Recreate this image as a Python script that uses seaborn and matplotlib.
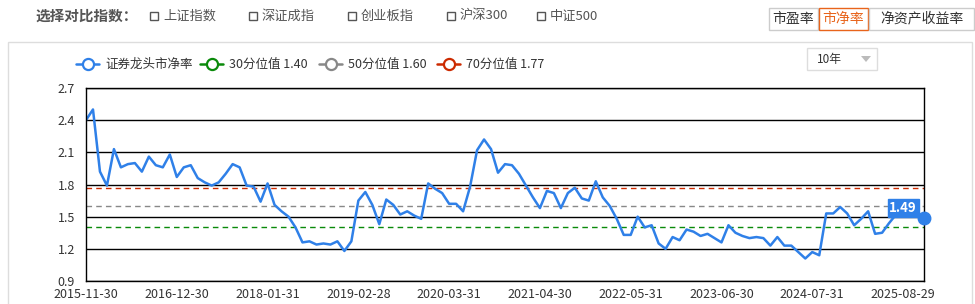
import numpy as np
import pandas as pd
import matplotlib
matplotlib.use("Agg")
import matplotlib.pyplot as plt
import seaborn as sns
from matplotlib.patches import Rectangle, Polygon
from matplotlib.lines import Line2D

# ---------------- data ----------------
values = [
    2.40, 2.50, 1.92, 1.79, 2.13, 1.96, 1.99, 2.00, 1.92, 2.06, 1.98, 1.96, 2.08, 1.87, 1.96, 1.98, 1.86, 1.82, 1.79, 1.82, 1.90,
    1.99, 1.96, 1.79, 1.78, 1.64, 1.81, 1.61, 1.55, 1.50, 1.40, 1.26, 1.27, 1.24, 1.25, 1.24, 1.27, 1.18, 1.27, 1.65, 1.73,
    1.61, 1.43, 1.66, 1.61, 1.52, 1.55, 1.51, 1.48, 1.81, 1.76, 1.72, 1.62, 1.62, 1.55, 1.78, 2.12, 2.22, 2.13, 1.91, 1.99,
    1.98, 1.90, 1.79, 1.68, 1.58, 1.74, 1.72, 1.58, 1.72, 1.77, 1.67, 1.65, 1.83, 1.68, 1.60, 1.48, 1.33, 1.33, 1.50, 1.40,
    1.42, 1.25, 1.20, 1.31, 1.28, 1.38, 1.36, 1.32, 1.34, 1.30, 1.26, 1.42, 1.35, 1.32, 1.30, 1.31, 1.30, 1.23, 1.31, 1.23,
    1.23, 1.17, 1.11, 1.17, 1.14, 1.53, 1.53, 1.59, 1.53, 1.42, 1.48, 1.55, 1.34, 1.35, 1.44, 1.52, 1.64, 1.56, 1.52, 1.49,
]
tick_labels = ["2015-11-30", "2016-12-30", "2018-01-31", "2019-02-28", "2020-03-31",
               "2021-04-30", "2022-05-31", "2023-06-30", "2024-07-31", "2025-08-29"]
tick_step = 13
y_ticks = [0.9, 1.2, 1.5, 1.8, 2.1, 2.4, 2.7]
series_name = "证券龙头市净率"
pct_names = ["30分位值 1.40", "50分位值 1.60", "70分位值 1.77"]
pct_values = [1.40, 1.60, 1.77]
pct_colors = ["#0a8a0a", "#888888", "#cc2a00"]
compare_items = ["上证指数", "深证成指", "创业板指", "沪深300", "中证500"]
metric_buttons = ["市盈率", "市净率", "净资产收益率"]
period_label = "10年"

BLUE = "#2f80e8"
TXT = "#333333"

sns.set_theme(style="white")
plt.rcParams['font.family'] = ['Noto Sans CJK SC', 'DejaVu Sans']

W, H = 975, 304
fig = plt.figure(figsize=(W / 100, H / 100), dpi=100)
fig.patch.set_facecolor("white")

def fx(x):
    return x / W

def fy(y):
    return 1 - y / H

# ---------- axes ----------
L, R, T, B = 86, 924, 88, 281
ax = fig.add_axes([fx(L), fy(B), (R - L) / W, (B - T) / H])

df = pd.DataFrame({"idx": np.arange(len(values)), "val": values})
sns.lineplot(data=df, x="idx", y="val", ax=ax, color=BLUE, linewidth=1.8)

ax.set_xlim(0, len(values) - 1)
ax.set_ylim(0.9, 2.7)
ax.set_yticks(y_ticks)
ax.set_yticklabels([f"{v:.1f}" for v in y_ticks])
ax.set_xticks(np.arange(len(tick_labels)) * tick_step)
ax.set_xticklabels(tick_labels)
ax.set_xlabel("")
ax.set_ylabel("")
ax.tick_params(axis="both", length=0, labelsize=9, labelcolor=TXT)
ax.tick_params(axis="y", pad=8)
ax.tick_params(axis="x", pad=5)

for v in y_ticks:
    ax.axhline(v, color="black", linewidth=1.0, zorder=1)
for v, c in zip(pct_values, pct_colors):
    ax.axhline(v, color=c, linewidth=1.0, linestyle=(0, (4, 3)), zorder=1.5)

for s in ["left", "right", "bottom", "top"]:
    ax.spines[s].set_visible(True)
    ax.spines[s].set_color("black")
    ax.spines[s].set_linewidth(1.0)

# end marker and label
last_i = len(values) - 1
ax.plot([last_i], [values[-1]], marker="o", markersize=9, color=BLUE, zorder=5, clip_on=False)
ax.annotate(f"{values[-1]:.2f}", xy=(last_i, values[-1]), xytext=(-15, 7),
            textcoords="offset points", ha="center", va="center", color="white",
            fontsize=9.5, fontweight="bold",
            bbox=dict(boxstyle="square,pad=0.12", fc=BLUE, ec=BLUE), zorder=6)

# ---------- panel frame ----------
fig.add_artist(Rectangle((fx(8), fy(310)), fx(972) - fx(8), fy(42) - fy(310),
                         transform=fig.transFigure, fill=False, ec="#dddddd", lw=1.0))

# ---------- header ----------
fig.text(fx(35), fy(16), "选择对比指数：", fontsize=10.5, fontweight="bold", color="#555555",
         ha="left", va="center")
cb_x = [150, 249, 348, 447, 537]
for x, lab in zip(cb_x, compare_items):
    fig.add_artist(Rectangle((fx(x), fy(20)), 8 / W, 8 / H, transform=fig.transFigure,
                             fill=False, ec="#555555", lw=1.0))
    fig.text(fx(x + 13), fy(16), lab, fontsize=9.5, color="#555555", ha="left", va="center")

btn = [(769, 818), (819, 868), (869, 974)]
for (x0, x1), lab in zip(btn, metric_buttons):
    active = lab == "市净率"
    ec = "#e8641b" if active else "#cccccc"
    tc = "#e8641b" if active else TXT
    fig.add_artist(Rectangle((fx(x0), fy(30)), (x1 - x0) / W, 22 / H, transform=fig.transFigure,
                             fill=False, ec=ec, lw=1.0))
    fig.text(fx((x0 + x1) / 2), fy(18.5), lab, fontsize=10, color=tc, ha="center", va="center")

# ---------- legend ----------
leg_items = [(76, series_name, BLUE)] + [(x, n, c) for x, n, c in zip([200, 319, 437], pct_names, pct_colors)]
for x, name, c in leg_items:
    fig.add_artist(Line2D([fx(x), fx(x + 23)], [fy(64), fy(64)], transform=fig.transFigure,
                          color=c, lw=1.8))
    fig.add_artist(Line2D([fx(x + 11.5)], [fy(64)], transform=fig.transFigure, marker="o",
                          markersize=8, markerfacecolor="white", markeredgecolor=c, mew=1.6))
    fig.text(fx(x + 29), fy(64), name, fontsize=9, color=TXT, ha="left", va="center")

# ---------- period dropdown ----------
fig.add_artist(Rectangle((fx(807), fy(70)), 70 / W, 22 / H, transform=fig.transFigure,
                         fill=False, ec="#dddddd", lw=1.0))
fig.text(fx(817), fy(59), period_label, fontsize=8.5, color=TXT, ha="left", va="center")
fig.add_artist(Polygon([[fx(861), fy(56)], [fx(871), fy(56)], [fx(866), fy(62)]],
                       closed=True, transform=fig.transFigure, fc="#bbbbbb", ec="none"))

fig.savefig("out.png", dpi=100, facecolor="white")
